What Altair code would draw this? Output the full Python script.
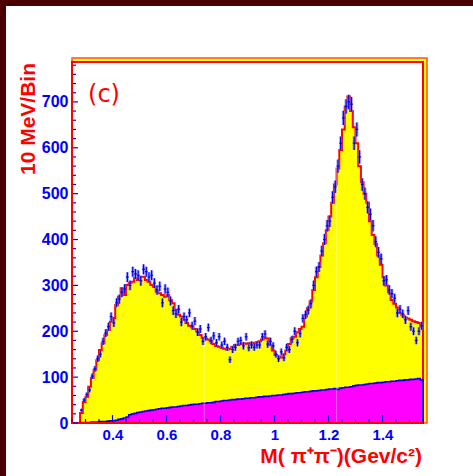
import altair as alt
import pandas as pd
import numpy as np

# ---- data (10 MeV bins from 0.25 to 1.55 GeV/c^2) ----
bin_width = 0.01
x_min, x_max = 0.25, 1.55

total_fit = [0, 0, 0,
             22, 46, 57, 79, 98, 116, 137, 159, 174, 192, 203, 221, 229, 257, 275, 294, 279, 301,
             305, 308, 316, 312, 319, 319, 312, 308, 301, 297, 286, 283, 279, 275, 279, 268, 261,
             247, 236, 232, 225,
             218, 212, 210, 205, 200, 192, 186, 184, 182, 178, 172, 168, 166, 164, 162, 160, 162,
             166, 170, 170, 172, 174, 173, 174, 175, 174, 176, 178, 182, 186, 184, 170, 158, 148,
             145, 143, 150, 158, 172,
             185, 188, 198, 205, 210, 232, 250, 265, 290, 318, 340, 365, 392, 420, 450, 480, 520,
             555, 595, 640, 690, 712, 680, 645, 610, 560, 525, 500, 480, 440, 410, 390, 365, 345,
             318, 300, 285, 268, 260, 252, 240, 235, 230, 228, 225, 222, 220, 218, 210]

background = [0, 0, 0,
              1, 1, 1, 1, 2, 2, 2, 3, 3, 3, 4, 5, 5, 6, 8, 9, 11, 13, 18, 20, 21, 23, 24, 25, 26,
              27, 28, 29, 30, 31, 32, 32, 33, 34, 35, 35, 36, 37, 38,
              38, 39, 40, 41, 41, 42, 43, 43, 44, 44, 45, 47, 47, 48, 49, 49, 50, 51, 51, 52, 52,
              53, 54, 54, 55, 55, 56, 57, 57, 58, 58, 59, 60, 60, 61, 61, 62, 63, 64,
              64, 65, 66, 66, 67, 68, 68, 69, 70, 70, 71, 72, 72, 73, 74, 74, 75, 73, 76, 77, 78,
              78, 79, 81, 82, 83, 83, 84, 85, 86, 86, 87, 88, 88, 89, 90, 90, 91, 91, 92, 93, 93,
              94, 94, 95, 95, 96, 97, 94]

measured = [0, 0, 0,
            28, 50, 62, 72, 102, 118, 140, 150, 178, 196, 210, 232, 218, 262, 270, 285, 292, 318,
            300, 330, 325, 322, 310, 335, 330, 318, 322, 305, 290, 298, 262, 292, 285, 266, 245,
            238, 248, 220, 232,
            225, 240, 212, 222, 198, 205, 178, 188, 208, 180, 190, 175, 188, 170, 178, 165, 138,
            160, 165, 178, 180, 168, 188, 164, 170, 165, 170, 170, 188, 194, 172, 178, 168, 150,
            140, 155, 142, 165, 160,
            182, 200, 175, 195, 228, 236, 246, 260, 300, 330, 340, 375, 400, 430, 440, 492, 515,
            560, 610, 665, 690, 700, 695, 610, 640, 580, 520, 500, 470, 455, 430, 395, 372, 358,
            310, 312, 290, 282, 272, 240, 248, 238, 225, 245, 210, 200, 180, 200, 212]

y_tick_labels = [0, 100, 200, 300, 400, 500, 600, 700]
y_minor = [v for v in range(0, 781, 20) if v % 100 != 0]
x_tick_labels = [0.4, 0.6, 0.8, 1.0, 1.2, 1.4]
x_minor = [0.25, 0.3, 0.35, 0.45, 0.5, 0.55, 0.65, 0.7, 0.75, 0.85, 0.9, 0.95,
           1.05, 1.1, 1.15, 1.25, 1.3, 1.35, 1.45, 1.5, 1.55]
seams = [0.74, 1.23]

# ---- tables ----
n_bins = len(total_fit)
lows = [round(x_min + bin_width * k, 3) for k in range(n_bins)]
hist = pd.DataFrame({
    "x": lows + [x_max],
    "total": total_fit + [total_fit[-1]],
    "bkg": background + [background[-1]],
})
pts = pd.DataFrame({"lo": lows, "n": measured})
pts["hi"] = pts["lo"] + bin_width
pts["xc"] = pts["lo"] + bin_width / 2
pts["err"] = 0.6 * np.sqrt(pts["n"])
pts["ylo"] = pts["n"] - pts["err"]
pts["yhi"] = pts["n"] + pts["err"]
pts = pts[pts["n"] > 0]

W, H = 351, 361
XS = alt.Scale(domain=[x_min, x_max], nice=False, zero=False)
YS = alt.Scale(domain=[0, 787], nice=False, zero=True)
one = alt.Data(values=[{"a": 0}])

RED = "#ff0000"
BLUE = "#0000ff"
MAROON = "#4a0002"
FONT = "Liberation Sans"

XA = alt.Axis(values=x_tick_labels, format="~g", domain=False, ticks=False, grid=False,
              labelColor=BLUE, labelFont=FONT, labelFontWeight="bold", labelFontSize=15,
              labelPadding=4, title=None)
YA = alt.Axis(values=y_tick_labels, domain=False, ticks=False, grid=False,
              labelColor=BLUE, labelFont=FONT, labelFontWeight="bold", labelFontSize=16,
              labelPadding=4, title=None)


def X(f):
    return alt.X(f, scale=XS, axis=XA, title=None)


def Y(f):
    return alt.Y(f, scale=YS, axis=YA, title=None)


# maroon frame strips (outside plot)
maroon_left = alt.Chart(one).mark_rect(color=MAROON).encode(
    x=alt.value(-72), x2=alt.value(-66), y=alt.value(-62), y2=alt.value(H + 53))
maroon_top = alt.Chart(one).mark_rect(color=MAROON).encode(
    x=alt.value(-72), x2=alt.value(W + 50), y=alt.value(-62), y2=alt.value(-56))

# 3D style frame strip
strip = alt.Chart(one).mark_rect(fill="#ffff00", stroke="#ff4a3a", strokeWidth=1.5).encode(
    x=alt.value(0), x2=alt.value(W + 4), y=alt.value(-4), y2=alt.value(H))
plot_bg = alt.Chart(one).mark_rect(fill="white", stroke=RED, strokeWidth=2).encode(
    x=alt.value(0), x2=alt.value(W), y=alt.value(0), y2=alt.value(H))

# histograms
total_area = alt.Chart(hist).mark_area(
    interpolate="step-after", fill="#ffff00", stroke=RED, strokeWidth=2, strokeJoin="miter"
).encode(x=X("x:Q"), y=Y("total:Q"))
bkg_area = alt.Chart(hist).mark_area(
    interpolate="step-after", fill="#ff00ff", stroke=BLUE, strokeWidth=1.6, strokeJoin="miter"
).encode(x=X("x:Q"), y=Y("bkg:Q"))

seam_df = pd.DataFrame({"x": seams})
seam = alt.Chart(seam_df).mark_rule(color="white", opacity=0.35, strokeWidth=1).encode(
    x=X("x:Q"), y=alt.value(H), y2=alt.value(8))

# data points with error bars
halo = alt.Chart(pts).mark_rule(color="#7a7aff", opacity=0.6, strokeWidth=3.2).encode(
    x=X("xc:Q"), y=Y("ylo:Q"), y2="yhi:Q")
core = alt.Chart(pts).mark_rule(color="#0000e6", strokeWidth=1.2).encode(
    x=X("xc:Q"), y=Y("ylo:Q"), y2="yhi:Q")
hbar = alt.Chart(pts).mark_rule(color="#0000e6", strokeWidth=1.2).encode(
    x=X("lo:Q"), x2="hi:Q", y=Y("n:Q"))

# axis lines (red)
left_axis = alt.Chart(one).mark_rule(color=RED, strokeWidth=2).encode(
    x=alt.value(0), y=alt.value(0), y2=alt.value(H))
bottom_axis = alt.Chart(one).mark_rule(color=RED, strokeWidth=2).encode(
    x=alt.value(0), x2=alt.value(W), y=alt.value(H))

# inside ticks (blue)
ymaj = alt.Chart(pd.DataFrame({"v": y_tick_labels})).mark_rule(color=BLUE, strokeWidth=1.2).encode(
    y=Y("v:Q"), x=alt.value(1), x2=alt.value(6))
ymin = alt.Chart(pd.DataFrame({"v": y_minor})).mark_rule(color=BLUE, strokeWidth=1.2).encode(
    y=Y("v:Q"), x=alt.value(1), x2=alt.value(4))
xmaj = alt.Chart(pd.DataFrame({"v": x_tick_labels})).mark_rule(color=BLUE, strokeWidth=1.2).encode(
    x=X("v:Q"), y=alt.value(H - 1), y2=alt.value(H - 8))
xmin = alt.Chart(pd.DataFrame({"v": x_minor})).mark_rule(color=BLUE, strokeWidth=1.2).encode(
    x=X("v:Q"), y=alt.value(H - 1), y2=alt.value(H - 4))

# texts
panel = alt.Chart(one).mark_text(
    text="(c)", color=RED, font="DejaVu Sans", fontSize=24, align="center", baseline="middle"
).encode(x=alt.value(32), y=alt.value(33))
ytitle = alt.Chart(one).mark_text(
    text="10 MeV/Bin", color=RED, font=FONT, fontWeight="bold", fontSize=21,
    angle=270, align="right", baseline="middle"
).encode(x=alt.value(-43), y=alt.value(1))
xtitle = alt.Chart(one).mark_text(
    text="M( π⁺π⁻)(Gev/c²)", color=RED, font=FONT, fontWeight="bold", fontSize=21,
    align="right", baseline="alphabetic"
).encode(x=alt.value(W - 1), y=alt.value(H + 40))

chart = alt.layer(
    maroon_left, maroon_top, strip, plot_bg,
    total_area, bkg_area, seam,
    halo, core, hbar,
    left_axis, bottom_axis, ymaj, ymin, xmaj, xmin,
    panel, ytitle, xtitle,
).properties(
    width=W, height=H,
    padding={"left": 72, "top": 62, "right": 50, "bottom": 53},
    autosize=alt.AutoSizeParams(type="none"),
    background="white",
).configure_view(stroke=None)

chart.save("out.html", embed_options={"renderer": "svg", "actions": False})
